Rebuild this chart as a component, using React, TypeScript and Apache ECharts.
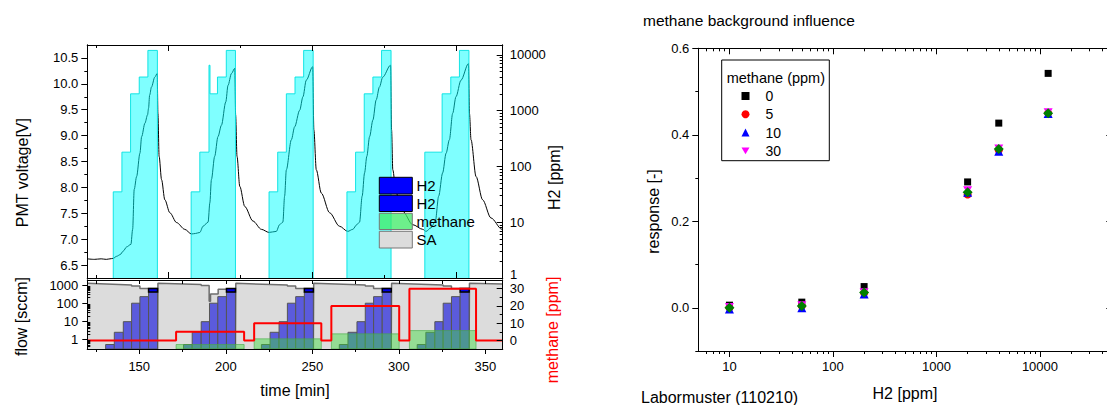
import React, { useEffect, useRef } from "react";
import * as echarts from "echarts";

const FONT = "'Liberation Sans', Arial, Helvetica, sans-serif";

// ---------- left figure: time axis (minutes) ----------
const TIME_MIN = 120;
const TIME_MAX = 360;
const TIME_LABELS = [150, 200, 250, 300, 350];
const TIME_MINOR = [125, 175, 225, 275, 325];
// the upper panel's own time axis runs in seconds (ticks every 2500 s)
const SEC_TICKS_MAJOR = [166.667, 250, 333.333];
const SEC_TICKS_MINOR = [125, 208.333, 291.667];

const PMT_TICKS = [6.5, 7.0, 7.5, 8.0, 8.5, 9.0, 9.5, 10.0, 10.5];
const PMT_MINOR = [6.75, 7.25, 7.75, 8.25, 8.75, 9.25, 9.75, 10.25];
const PPM_TICKS = [1, 10, 100, 1000, 10000];
const PPM_LABELS = [10, 100, 1000, 10000];
const PPM_MINOR = [2, 3, 4, 5, 6, 7, 8, 9, 20, 30, 40, 50, 60, 70, 80, 90, 200, 300, 400, 500, 600, 700, 800, 900, 2000, 3000, 4000, 5000, 6000, 7000, 8000, 9000];
const FLOW_TICKS = [1, 10, 100, 1000];
const FLOW_MINOR = [0.4, 0.5, 0.6, 0.7, 0.8, 0.9, 2, 3, 4, 5, 6, 7, 8, 9, 20, 30, 40, 50, 60, 70, 80, 90, 200, 300, 400, 500, 600, 700, 800, 900];
const CH4_TICKS = [0, 10, 20, 30];
const CH4_MINOR = [5, 15, 25];

// PMT voltage [time min, V]
const pmtVoltage: [number, number][] = [
  [120, 6.62], [124, 6.61], [128, 6.62], [131, 6.61], [133.1, 6.62], [135, 6.63], [137, 6.67], [138.9, 6.7],
  [140.8, 6.77], [142.7, 6.85], [145.2, 6.9], [146.2, 7.19], [147.1, 7.96], [148.5, 8.21], [150.4, 8.66],
  [151.4, 8.98], [153.3, 9.24], [154.8, 9.4], [155.4, 9.53], [156.0, 9.78], [157.1, 9.94], [159.0, 10.13],
  [160.4, 10.2], [160.8, 9.43], [161.5, 8.6], [162.9, 8.15], [164.8, 7.76], [167.7, 7.51], [171.6, 7.32],
  [176.3, 7.19], [180.2, 7.1],
  [182.5, 7.11], [185.0, 7.13], [186.9, 7.25], [189.8, 7.33], [190.8, 7.7], [191.7, 8.15], [193.6, 8.6],
  [195.5, 8.98], [197.5, 9.2], [200.0, 9.65], [201.3, 9.97], [203.3, 10.2], [205.2, 10.3], [205.7, 9.4],
  [206.5, 8.6], [208.1, 8.02], [211.0, 7.63], [215.7, 7.35], [220.6, 7.19], [225.0, 7.13],
  [229.2, 7.15], [231.1, 7.28], [233.0, 7.33], [234.0, 7.83], [235.0, 8.34], [237.9, 8.92], [239.8, 9.17],
  [242.7, 9.49], [244.6, 9.75], [246.5, 10.07], [250.2, 10.33], [250.9, 9.11], [252.3, 8.34], [255.2, 7.89],
  [260.0, 7.51], [265.7, 7.25], [270.5, 7.15],
  [273.4, 7.19], [275.7, 7.28], [277.3, 7.33], [278.8, 7.83], [280.2, 8.28], [281.5, 8.6], [283.1, 8.98],
  [285.0, 9.3], [286.9, 9.69], [288.8, 9.94], [290.7, 10.13], [295.2, 10.36], [295.8, 9.11], [296.5, 8.34],
  [298.4, 7.89], [302.2, 7.54], [308.0, 7.28], [313.8, 7.19],
  [315.7, 7.15], [318.6, 7.22], [321.1, 7.35], [323.0, 7.83], [325.3, 8.28], [327.3, 8.66], [329.2, 8.92],
  [331.1, 9.43], [333.0, 9.75], [335.9, 10.07], [340.2, 10.39], [340.8, 9.43], [341.7, 8.92], [344.6, 8.21],
  [348.4, 7.76], [353.2, 7.41], [359.6, 7.19], [360, 7.18],
];

// H2 set-point concentration per cycle [time min, ppm]
const h2Cycle1: [number, number][] = [[135, 1], [135, 35], [140, 35], [140, 180], [145, 180], [145, 2000], [150, 2000], [150, 4000], [155, 4000], [155, 12000], [160.5, 12000], [160.5, 1]];
const h2Cycle2: [number, number][] = [[180, 1], [180, 35], [185, 35], [185, 180], [190.3, 180], [190.3, 6500], [190.9, 6500], [190.9, 2000], [195.2, 2000], [195.2, 4000], [200.3, 4000], [200.3, 12000], [205.6, 12000], [205.6, 1]];
const h2Cycle3: [number, number][] = [[225, 1], [225, 35], [230, 35], [230, 180], [235, 180], [235, 2000], [240, 2000], [240, 4000], [245, 4000], [245, 12000], [250.5, 12000], [250.5, 1]];
const h2Cycle4: [number, number][] = [[270, 1], [270, 35], [275, 35], [275, 180], [280, 180], [280, 2000], [285, 2000], [285, 4000], [290, 4000], [290, 12000], [295.5, 12000], [295.5, 1]];
const h2Cycle5: [number, number][] = [[315, 1], [315, 180], [325, 180], [325, 2000], [330, 2000], [330, 4000], [335, 4000], [335, 12000], [340.5, 12000], [340.5, 1]];
const h2Cycles = [h2Cycle1, h2Cycle2, h2Cycle3, h2Cycle4, h2Cycle5];

// synthetic air flow [time min, sccm]
const saFlow: [number, number][] = [
  [120, 1250], [145.6, 1000], [145.6, 900], [150.4, 900], [150.4, 640], [160.6, 640], [160.6, 0.3], [160.8, 0.3],
  [160.8, 1260], [185.8, 1060], [185.8, 950], [190.4, 950], [190.4, 130], [191.2, 130], [191.2, 320], [195.6, 320],
  [195.6, 580], [205.6, 580], [205.6, 0.3], [205.8, 0.3],
  [205.8, 1260], [235.6, 1000], [235.6, 900], [240.4, 900], [240.4, 640], [250.6, 640], [250.6, 0.3], [250.8, 0.3],
  [250.8, 1260], [280.6, 1000], [280.6, 900], [285.4, 900], [285.4, 640], [295.6, 640], [295.6, 0.3], [295.8, 0.3],
  [295.8, 1260], [325.6, 1000], [325.6, 900], [330.4, 900], [330.4, 640], [340.6, 640], [340.6, 0.3], [340.8, 0.3],
  [340.8, 1260], [360, 1150],
];

// H2 flow steps: [start min, end min, sccm]
const h2FlowSteps: [number, number, number][] = [
  [130.6, 135.6, 0.53], [135.6, 140.8, 2.5], [140.8, 145.6, 9.6], [145.6, 150.4, 100], [150.4, 155.4, 230], [155.4, 160.6, 420],
  [175.6, 180.6, 0.53], [180.6, 185.8, 2.5], [185.8, 190.6, 9.6], [190.6, 195.4, 100], [195.4, 200.4, 230], [200.4, 205.6, 420],
  [220.6, 225.6, 0.53], [225.6, 230.8, 2.5], [230.8, 235.6, 9.6], [235.6, 240.4, 100], [240.4, 245.4, 230], [245.4, 250.6, 420],
  [265.6, 270.6, 0.53], [270.6, 275.8, 2.5], [275.8, 280.6, 9.6], [280.6, 285.4, 100], [285.4, 290.4, 230], [290.4, 295.6, 420],
  [310.6, 315.6, 0.53], [315.6, 320.8, 2.5], [320.8, 325.6, 9.6], [325.6, 330.4, 100], [330.4, 335.4, 230], [335.4, 340.6, 420],
];
// second H2 controller during the top step: [start, end, low, high] sccm
const h2HighFlow: [number, number, number, number][] = [
  [155.4, 160.6, 420, 640], [200.4, 205.6, 420, 640], [245.4, 250.6, 420, 640], [290.4, 295.6, 420, 640], [335.4, 340.6, 420, 640],
];
// methane flow: [start, end, sccm]
const methaneFlow: [number, number, number][] = [
  [171.3, 210.6, 0.53], [216.4, 255.2, 1.09], [261.0, 300.2, 2.05], [306.1, 344.6, 3.1],
];
// methane concentration [time min, ppm]
const methanePpm: [number, number][] = [
  [120, 0], [171.3, 0], [171.3, 5], [210.6, 5], [210.6, 0], [216.4, 0], [216.4, 10], [255.2, 10], [255.2, 0],
  [261.0, 0], [261.0, 20], [300.2, 20], [300.2, 0], [306.1, 0], [306.1, 30], [344.6, 30], [344.6, 0], [360, 0],
];

// ---------- right figure ----------
const H2_LEVELS = [10, 50, 200, 2000, 4000, 12000];
const resp0 = [0.006, 0.013, 0.049, 0.291, 0.427, 0.542];
const resp5 = [0.0, 0.004, 0.034, 0.262, 0.364, 0.45];
const resp10 = [-0.003, 0.0, 0.032, 0.267, 0.362, 0.449];
const resp30 = [0.002, 0.006, 0.036, 0.272, 0.368, 0.452];
const resp20 = [0.0, 0.004, 0.035, 0.267, 0.367, 0.45];
const RESP_TICKS = [0, 0.2, 0.4, 0.6];
const RESP_MINOR = [-0.1, 0.1, 0.3, 0.5];
const X_TICKS = [10, 100, 1000, 10000];
const X_MINOR = [6, 7, 8, 9, 20, 30, 40, 50, 60, 70, 80, 90, 200, 300, 400, 500, 600, 700, 800, 900, 2000, 3000, 4000, 5000, 6000, 7000, 8000, 9000, 20000, 30000, 40000];

const DOWN_TRIANGLE = "path://M0,0L10,0L5,8.66Z";
const LINE = { color: "#000", width: 1 };

function axis(base: any, ticks: number[], inside: boolean, length: number, labels?: { values: number[]; fmt: (v: number) => string; margin: number }) {
  return {
    ...base,
    z: 10,
    silent: true,
    axisLine: { show: true, onZero: false, lineStyle: LINE },
    splitLine: { show: false },
    axisTick: { show: true, inside, length, customValues: ticks, lineStyle: LINE },
    axisLabel: labels
      ? { show: true, customValues: labels.values, formatter: labels.fmt, margin: labels.margin, color: "#000", fontSize: 13, fontFamily: FONT }
      : { show: false },
  };
}

const intFmt = (v: number) => String(Math.round(v));
const oneDec = (v: number) => v.toFixed(1);

function rectSeries(name: string, data: number[][], fill: string, stroke: string, lineWidth: number, z: number, lowFromData: boolean) {
  return {
    type: "custom",
    name,
    xAxisIndex: 4,
    yAxisIndex: 4,
    z,
    data,
    encode: { x: [0, 1], y: lowFromData ? [2, 3] : [2] },
    renderItem: (_p: any, api: any) => {
      const lo = lowFromData ? api.value(2) : 0.3;
      const hi = lowFromData ? api.value(3) : api.value(2);
      const a = api.coord([api.value(0), hi]);
      const b = api.coord([api.value(1), lo]);
      return {
        type: "rect",
        shape: { x: a[0], y: a[1], width: b[0] - a[0], height: b[1] - a[1] },
        style: { fill, stroke, lineWidth },
      };
    },
  };
}

function text(x: number, y: number, t: string, size: number, opts: any = {}) {
  return {
    type: "text",
    x,
    y,
    rotation: opts.rotate ? Math.PI / 2 : 0,
    z: 20,
    style: {
      text: t,
      fontSize: size,
      fontFamily: FONT,
      fill: opts.color || "#000",
      align: opts.align || "center",
      textAlign: opts.align || "center",
      verticalAlign: "middle",
      textVerticalAlign: "middle",
    },
  };
}

export default function App() {
  const ref = useRef<HTMLDivElement>(null);

  useEffect(() => {
    if (!ref.current) return;
    const chart = echarts.init(ref.current, undefined, { renderer: "svg" });

    const upperX = { gridIndex: 0, type: "value", min: TIME_MIN, max: TIME_MAX };
    const lowerX = { gridIndex: 1, type: "value", min: TIME_MIN, max: TIME_MAX };
    const rightX = { gridIndex: 2, type: "log", logBase: 10, min: 5, max: 50000 };

    const xAxis = [
      axis({ ...upperX, position: "bottom" }, SEC_TICKS_MAJOR, true, 6),
      axis({ ...upperX, position: "bottom" }, SEC_TICKS_MINOR, true, 3),
      axis({ ...upperX, position: "top" }, SEC_TICKS_MAJOR, true, 6),
      axis({ ...upperX, position: "top" }, SEC_TICKS_MINOR, true, 3),
      axis({ ...lowerX, position: "bottom" }, TIME_LABELS, false, 5, { values: TIME_LABELS, fmt: intFmt, margin: 11 }),
      axis({ ...lowerX, position: "bottom" }, TIME_MINOR, false, 3),
      axis({ ...lowerX, position: "top" }, [...TIME_MINOR, ...TIME_LABELS], true, 4),
      axis({ ...rightX, position: "bottom" }, X_TICKS, false, 6, { values: X_TICKS, fmt: intFmt, margin: 9 }),
      axis({ ...rightX, position: "bottom" }, X_MINOR, false, 3),
      axis({ ...rightX, position: "top" }, X_TICKS, true, 6),
      axis({ ...rightX, position: "top" }, X_MINOR, true, 3),
    ];

    const pmtY = { gridIndex: 0, type: "value", min: 6.25, max: 10.75, position: "left" };
    const ppmY = { gridIndex: 0, type: "log", logBase: 10, min: 1, max: 15000, position: "right" };
    const flowY = { gridIndex: 1, type: "log", logBase: 10, min: 0.3, max: 1900, position: "left" };
    const ch4Y = { gridIndex: 1, type: "value", min: -5, max: 35, position: "right" };
    const respY = { gridIndex: 2, type: "value", min: -0.1, max: 0.6, position: "left" };
    const respYR = { gridIndex: 2, type: "value", min: -0.1, max: 0.6, position: "right" };

    const yAxis = [
      axis(pmtY, PMT_TICKS, false, 6, { values: PMT_TICKS, fmt: oneDec, margin: 9 }),
      axis(pmtY, PMT_MINOR, false, 3),
      axis(ppmY, PPM_TICKS, true, 6, { values: PPM_LABELS, fmt: intFmt, margin: 7 }),
      axis(ppmY, PPM_MINOR, true, 3),
      axis(flowY, FLOW_TICKS, false, 5, { values: FLOW_TICKS, fmt: intFmt, margin: 9 }),
      axis(flowY, FLOW_MINOR, true, 3),
      axis(ch4Y, CH4_TICKS, true, 6, { values: CH4_TICKS, fmt: intFmt, margin: 7 }),
      axis(ch4Y, CH4_MINOR, true, 3),
      axis(respY, RESP_TICKS, false, 6, { values: RESP_TICKS, fmt: oneDec, margin: 9 }),
      axis(respY, RESP_MINOR, false, 3),
      axis(respYR, RESP_TICKS, true, 6),
      axis(respYR, RESP_MINOR, true, 3),
    ];

    const cyanSeries = h2Cycles.map((d, i) => ({
      type: "line",
      name: "H2 set " + (i + 1),
      xAxisIndex: 0,
      yAxisIndex: 2,
      data: d,
      z: 3,
      symbol: "none",
      showSymbol: false,
      lineStyle: { color: "rgba(0,225,225,0.9)", width: 1 },
      areaStyle: { color: "rgba(0,255,255,0.5)", origin: "start", opacity: 1 },
    }));

    const scatter = (name: string, vals: number[], symbol: string, size: any, color: string) => ({
      type: "scatter",
      name,
      xAxisIndex: 7,
      yAxisIndex: 8,
      symbol,
      symbolSize: size,
      itemStyle: { color, opacity: 1 },
      data: H2_LEVELS.map((x, i) => [x, vals[i]]),
      z: 5,
    });

    const option: any = {
      animation: false,
      backgroundColor: "#fff",
      textStyle: { fontFamily: FONT },
      grid: [
        { left: 87.3, top: 45, width: 415.4, height: 233, outerBoundsMode: "none", containLabel: false },
        { left: 87.3, top: 280, width: 415.4, height: 69, outerBoundsMode: "none", containLabel: false },
        { left: 698.3, top: 48.3, width: 414, height: 302.7, outerBoundsMode: "none", containLabel: false },
      ],
      xAxis,
      yAxis,
      legend: {
        show: true,
        orient: "vertical",
        left: 736.5,
        top: 84,
        itemWidth: 8,
        itemHeight: 8,
        itemGap: 4.3,
        selectedMode: false,
        data: ["0", "5", "10", "30"],
        textStyle: { fontSize: 14, fontFamily: FONT, color: "#000", lineHeight: 14, padding: [0, 0, 0, 11] },
      },
      series: [
        {
          type: "line",
          name: "PMT",
          xAxisIndex: 0,
          yAxisIndex: 0,
          data: pmtVoltage,
          z: 2,
          symbol: "none",
          showSymbol: false,
          smooth: 0.3,
          smoothMonotone: "x",
          lineStyle: { color: "#000", width: 1 },
        },
        ...cyanSeries,
        {
          type: "line",
          name: "SA",
          xAxisIndex: 4,
          yAxisIndex: 4,
          data: saFlow,
          z: 1,
          symbol: "none",
          showSymbol: false,
          lineStyle: { color: "#6e6e6e", width: 1.5 },
          areaStyle: { color: "#dcdcdc", origin: "start", opacity: 1 },
        },
        rectSeries("H2 flow", h2FlowSteps, "#5b5bdc", "#555", 1, 2, false),
        rectSeries("H2 high", h2HighFlow, "#0000e8", "#000", 1.5, 3, true),
        rectSeries("methane flow", methaneFlow, "rgba(60,220,60,0.45)", "rgba(70,170,70,0.6)", 1, 4, false),
        {
          type: "line",
          name: "methane ppm",
          xAxisIndex: 4,
          yAxisIndex: 6,
          data: methanePpm,
          z: 6,
          symbol: "none",
          showSymbol: false,
          lineStyle: { color: "#ff0000", width: 2 },
        },
        scatter("0", resp0, "rect", 7, "#000"),
        scatter("5", resp5, "circle", 8, "#ff0000"),
        scatter("10", resp10, "triangle", 9, "#0000ff"),
        scatter("30", resp30, DOWN_TRIANGLE, [9, 8], "#ff00ff"),
        scatter("20", resp20, "diamond", 10, "#008000"),
      ],
      graphic: [
        // axis titles, left figure
        text(22, 172.6, "PMT voltage[V]", 16, { rotate: true }),
        text(21.7, 316.5, "flow [sccm]", 16, { rotate: true }),
        text(554, 177.5, "H2 [ppm]", 16, { rotate: true }),
        text(552, 330, "methane [ppm]", 16, { rotate: true, color: "#ff0000" }),
        text(295, 390, "time [min]", 16),
        // lowest H2 tick label sits just above the methane scale
        text(510, 274.5, "1", 13, { align: "left" }),
        // legend, left figure
        { type: "rect", z: 20, shape: { x: 379.3, y: 177.3, width: 33, height: 16.7 }, style: { fill: "#0000ff", stroke: "#000", lineWidth: 1 } },
        { type: "rect", z: 20, shape: { x: 379.3, y: 195.3, width: 33, height: 16.2 }, style: { fill: "#0000ff", stroke: "#000", lineWidth: 1 } },
        { type: "rect", z: 20, shape: { x: 379.3, y: 213.3, width: 33, height: 16.2 }, style: { fill: "rgba(60,235,100,0.75)", stroke: "#777", lineWidth: 1 } },
        { type: "rect", z: 20, shape: { x: 379.3, y: 231.3, width: 33, height: 16.7 }, style: { fill: "#dcdcdc", stroke: "#777", lineWidth: 1 } },
        text(416.5, 185.6, "H2", 15, { align: "left" }),
        text(416.5, 203.4, "H2", 15, { align: "left" }),
        text(416.5, 221.4, "methane", 15, { align: "left" }),
        text(416.5, 239.6, "SA", 15, { align: "left" }),
        // right figure
        text(643, 20, "methane background influence", 15.5, { align: "left" }),
        text(641, 397, "Labormuster (110210)", 16, { align: "left" }),
        text(653, 211.5, "response [-]", 16, { rotate: true }),
        text(905, 393, "H2 [ppm]", 16),
        { type: "rect", z: 20, shape: { x: 721.7, y: 60, width: 107.6, height: 100.7 }, style: { fill: "none", stroke: "#000", lineWidth: 1 } },
        text(726.7, 78.3, "methane (ppm)", 14.5, { align: "left" }),
      ],
    };

    chart.setOption(option);
    return () => chart.dispose();
  }, []);

  return <div ref={ref} style={{ position: "absolute", left: 0, top: 0, width: 1107, height: 405 }} />;
}
